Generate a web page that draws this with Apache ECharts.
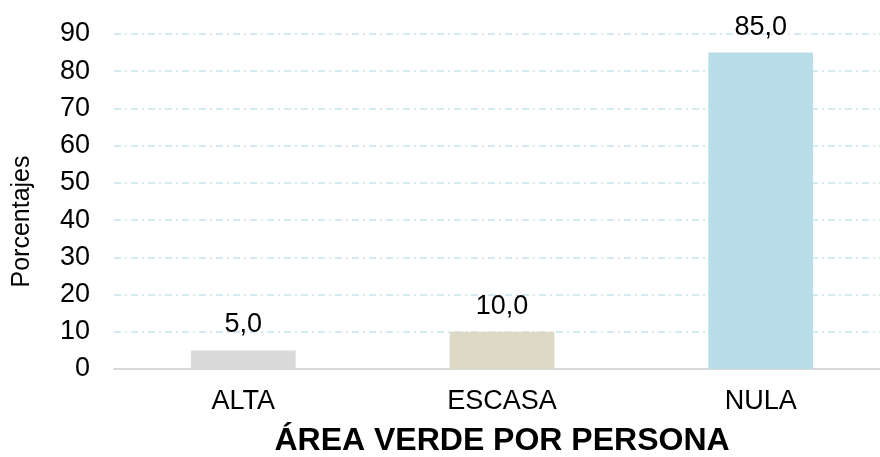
<!DOCTYPE html>
<html><head><meta charset="utf-8">
<script src="https://cdn.jsdelivr.net/npm/echarts@6/dist/echarts.min.js"></script>
<style>html,body{margin:0;padding:0;background:#fff}#c{width:880px;height:457px}</style>
</head><body><div id="c"></div>
<script>
const categories = ['ALTA', 'ESCASA', 'NULA'];
const values = [5.0, 10.0, 85.0];
const barColors = ['#d9d9d9', '#ddd9c4', '#b7dde8'];
const yTicks = [0, 10, 20, 30, 40, 50, 60, 70, 80, 90];

const chart = echarts.init(document.getElementById('c'));
const F = '"Liberation Sans", Arial, sans-serif';
chart.setOption({
  animation: false,
  grid: { left: 114, right: -10, top: 34, bottom: 88, containLabel: false, outerBoundsMode: 'none' },
  xAxis: {
    type: 'category', data: categories,
    name: 'ÁREA VERDE POR PERSONA', nameLocation: 'middle', nameGap: 56,
    nameTextStyle: { fontFamily: F, fontSize: 32, fontWeight: 'bold', color: '#000' },
    axisLine: { lineStyle: { color: '#d9d9d9', width: 2 } },
    axisTick: { show: false },
    axisLabel: { fontFamily: F, fontSize: 27, color: '#000', margin: 19 }
  },
  yAxis: {
    type: 'value', min: yTicks[0], max: yTicks[yTicks.length - 1], interval: 10,
    name: 'Porcentajes', nameLocation: 'middle', nameGap: 79,
    nameTextStyle: { fontFamily: F, fontSize: 25, color: '#000', padding: [0, 40, 0, 0] },
    axisLine: { show: false }, axisTick: { show: false },
    axisLabel: { fontFamily: F, fontSize: 27, color: '#000', margin: 24 },
    splitLine: { lineStyle: { color: '#c5e3ec', width: 1.5, type: [7, 4, 2, 4] } }
  },
  series: [{
    type: 'bar', barWidth: '40.5%',
    data: values.map((v, i) => ({ value: v, itemStyle: { color: barColors[i] } })),
    label: { show: true, position: 'top', distance: 12, fontFamily: F, fontSize: 27, color: '#000',
      formatter: p => p.value.toFixed(1).replace('.', ',') }
  }]
});
</script></body></html>
